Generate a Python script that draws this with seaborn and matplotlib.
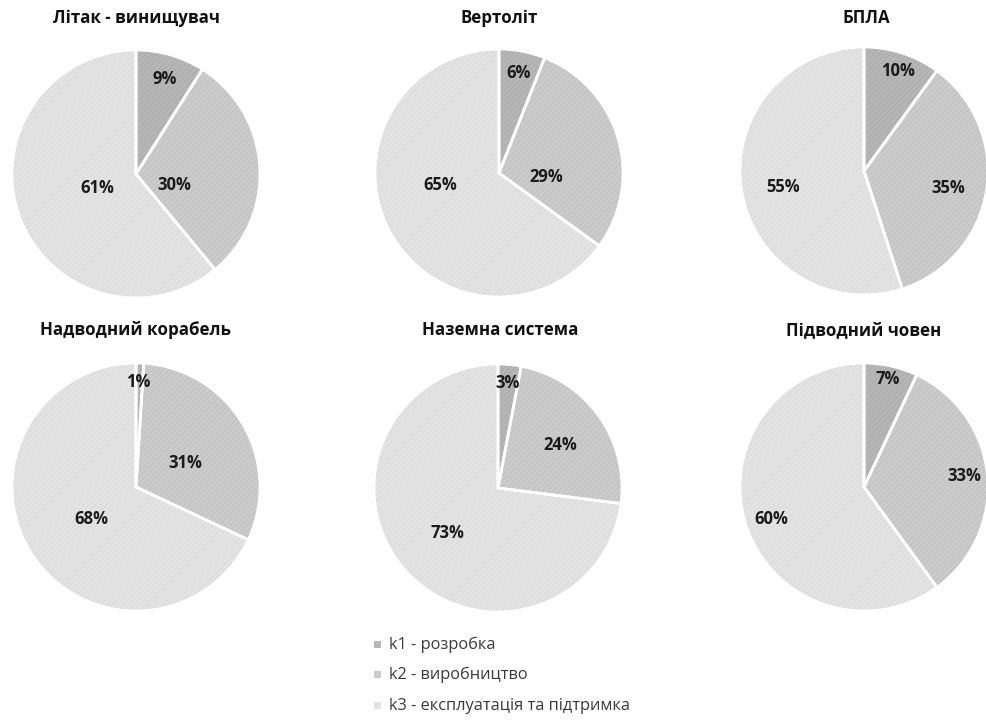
import matplotlib
matplotlib.use("Agg")
import matplotlib.pyplot as plt
import seaborn as sns
import numpy as np

titles = ["Літак - винищувач", "Вертоліт", "БПЛА",
          "Надводний корабель", "Наземна система", "Підводний човен"]
k1 = [9, 6, 10, 1, 3, 7]
k2 = [30, 29, 35, 31, 24, 33]
k3 = [61, 65, 55, 68, 73, 60]
legend_labels = ["k1 - розробка", "k2 - виробництво", "k3 - експлуатація та підтримка"]

# data-label placement (in units of pie radius), per pie, per wedge
label_offsets = [
    [(0.23, 0.77), (0.31, -0.09), (-0.31, -0.11)],
    [(0.16, 0.81), (0.38, -0.03), (-0.47, -0.10)],
    [(0.27, 0.81), (0.68, -0.14), (-0.65, -0.13)],
    [(0.02, 0.85), (0.40, 0.19), (-0.36, -0.26)],
    [(0.08, 0.85), (0.50, 0.35), (-0.41, -0.36)],
    [(0.19, 0.87), (0.81, 0.09), (-0.75, -0.26)],
]

sns.set_theme(style="white")
plt.rcParams["font.family"] = ["Open Sans", "DejaVu Sans"]
plt.rcParams["font.stretch"] = "normal"
plt.rcParams["hatch.linewidth"] = 0.5

fills = ["#b6b6b6", "#cbcbcb", "#e3e3e3"]
hatches = ["#a8a8a8", "#bebebe", "#d8d8d8"]

W, H = 987, 722
fig = plt.figure(figsize=(W / 100, H / 100), dpi=100)

centers = [(136, 174), (499, 173), (864, 171), (136, 487), (498, 488), (864, 487)]
R = 124
title_pos = [(136, 18), (499, 18), (866, 18), (136, 330), (500, 330), (864, 330)]

for i, (cx, cy) in enumerate(centers):
    ax = fig.add_axes([(cx - R) / W, (H - cy - R) / H, 2 * R / W, 2 * R / H])
    vals = [k1[i], k2[i], k3[i]]
    kw = dict(startangle=90, counterclock=False, radius=1)
    ax.pie(vals, colors=fills, wedgeprops=dict(linewidth=0), **kw)
    ov, _ = ax.pie(vals, colors=["none"] * 3,
                   wedgeprops=dict(linewidth=0, facecolor="none"), **kw)
    for w, hc in zip(ov, hatches):
        w.set_hatch("//////")
        w.set_edgecolor(hc)
    ax.pie(vals, colors=["none"] * 3,
           wedgeprops=dict(linewidth=2, edgecolor="white", facecolor="none"), **kw)
    for j, v in enumerate(vals):
        lx, ly = label_offsets[i][j]
        ax.text(lx, ly, f"{v}%", ha="center", va="center", fontstretch="normal",
                fontsize=12, fontweight="bold", color="#1a1a1a")
    ax.set_xlim(-1, 1)
    ax.set_ylim(-1, 1)
    ax.set_aspect("equal")
    ax.axis("off")
    tx, ty = title_pos[i]
    fig.text(tx / W, 1 - ty / H, titles[i], ha="center", va="center",
             fontsize=12.2, fontweight="bold", fontstretch="normal", color="#111111")

# legend
leg_y = [645, 675, 706]
for lab, y, c in zip(legend_labels, leg_y, fills):
    fig.patches.append(plt.Rectangle((374 / W, 1 - (y + 3) / H), 7 / W, 7 / H,
                                     transform=fig.transFigure, facecolor=c,
                                     edgecolor="none", figure=fig))
    fig.text(389 / W, 1 - y / H, lab, ha="left", va="center",
             fontsize=11.8, color="#3a3a3a")

fig.savefig("out.png", dpi=100)
